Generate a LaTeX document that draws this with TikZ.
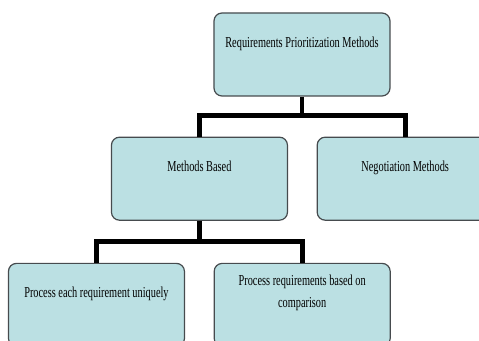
\documentclass[tikz,border=0pt]{standalone}
\usepackage{fontspec}
\setmainfont{Liberation Serif}[FakeStretch=0.68]
\usetikzlibrary{positioning}
\definecolor{boxfill}{RGB}{187,224,227}
\definecolor{boxline}{RGB}{70,75,78}

\begin{document}
\begin{tikzpicture}[node distance=30pt and 21.4pt,
  box/.style={draw=boxline,line width=0.9pt,rounded corners=6pt,fill=boxfill,
    align=center,inner xsep=0pt,inner ysep=0pt,minimum width=132pt,
    text height=#1,text depth=62.25pt-#1,font=\fontsize{11.4}{16.5}\selectfont},
  box/.default=25.5pt,
  link/.style={line width=3.6pt,line join=miter}]
\useasboundingbox (-226.5pt,-214.875pt) rectangle (132.75pt,40.875pt);
\clip (-226.5pt,-214.875pt) rectangle (132.75pt,40.875pt);
\node[box=26pt] (top) at (0,0) {Requirements Prioritization Methods};
\node[box,below=of top,xshift=-76.9pt] (mb) {Methods Based};
\node[box,right=of mb] (neg) {Negotiation Methods};
\node[box,below=31.5pt of mb,xshift=-77.25pt] (bl) {Process each requirement uniquely};
\node[box=33pt,right=of bl] (br) {Process requirements based on\\comparison};
% tree connectors
\draw[link] (top.south) -- ++(0,-14.25pt) coordinate (j1);
\draw[link] (mb.north) |- (j1) -| (neg.north);
\draw[link] (mb.south) -- ++(0,-15.75pt) coordinate (j2);
\draw[link] (bl.north) |- (j2) -| (br.north);
\end{tikzpicture}
\end{document}
